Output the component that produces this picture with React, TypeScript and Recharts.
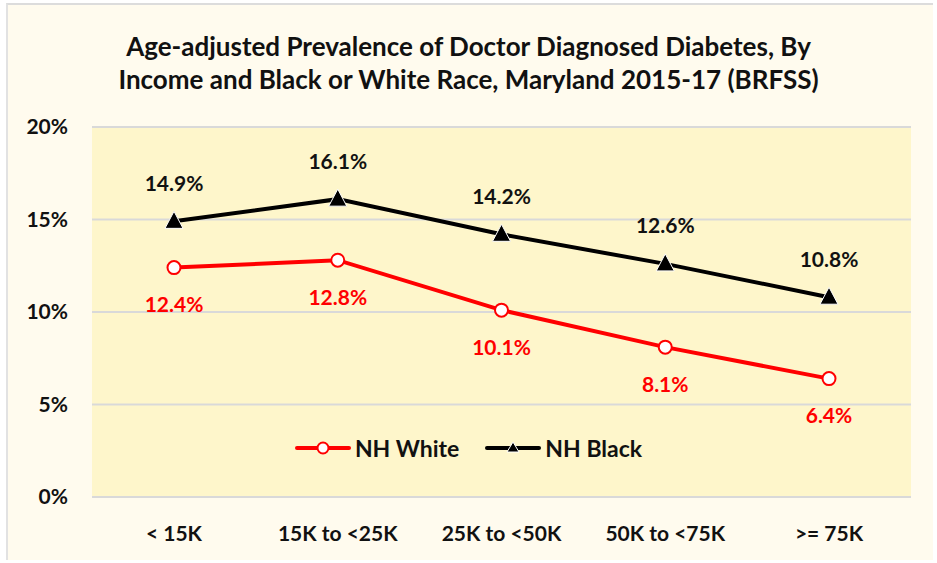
import { LineChart, Line, XAxis, YAxis, CartesianGrid, LabelList } from 'recharts';

const categories = ['< 15K', '15K to <25K', '25K to <50K', '50K to <75K', '>= 75K'];
const whiteValues = [12.4, 12.8, 10.1, 8.1, 6.4];
const blackValues = [14.9, 16.1, 14.2, 12.6, 10.8];
const yTicks = [0, 5, 10, 15, 20];

const chartData = categories.map((name, i) => ({
  name,
  white: whiteValues[i],
  black: blackValues[i],
}));

const FONT = 'Lato, "Open Sans", sans-serif';

function Triangle(props: any) {
  const { cx, cy } = props;
  if (cx == null || cy == null) return null;
  return (
    <polygon
      points={`${cx},${cy - 10} ${cx - 9},${cy + 7} ${cx + 9},${cy + 7}`}
      fill="#000"
      stroke="#fff"
      strokeWidth={1}
    />
  );
}

function LegendBox() {
  return (
    <div
      style={{
        position: 'absolute',
        left: 0,
        top: 434,
        width: 937,
        display: 'flex',
        justifyContent: 'center',
        alignItems: 'center',
        fontFamily: FONT,
        fontWeight: 700,
        fontSize: 23,
        color: '#111',
      }}
    >
      <svg width={56} height={16} style={{ marginRight: 4 }}>
        <line x1={2} y1={8} x2={54} y2={8} stroke="#ff0000" strokeWidth={4} strokeLinecap="round" />
        <circle cx={28} cy={8} r={5.5} fill="#fff" stroke="#ff0000" strokeWidth={2} />
      </svg>
      <span style={{ marginRight: 26 }}>NH White</span>
      <svg width={56} height={16} style={{ marginRight: 4 }}>
        <line x1={2} y1={8} x2={54} y2={8} stroke="#000" strokeWidth={4} strokeLinecap="round" />
        <polygon points="28,2 22,12 34,12" fill="#000" stroke="#fff" strokeWidth={1} />
      </svg>
      <span>NH Black</span>
    </div>
  );
}

const aboveLabel = (props: any) => {
  const { x, y, value } = props;
  return (
    <text x={x} y={y - 36} textAnchor="middle" dominantBaseline="middle" fontFamily={FONT} fontWeight={700} fontSize={21} fill="#111">
      {value.toFixed(1)}%
    </text>
  );
};

const belowLabel = (props: any) => {
  const { x, y, value } = props;
  return (
    <text x={x} y={y + 39} textAnchor="middle" dominantBaseline="middle" fontFamily={FONT} fontWeight={700} fontSize={21} fill="#ff0000">
      {value.toFixed(1)}%
    </text>
  );
};

export default function App() {
  return (
    <div style={{ position: 'absolute', left: 0, top: 0, width: 937, height: 563, background: '#fff' }}>
      <div
        style={{
          position: 'absolute',
          left: 6,
          top: 3,
          width: 927,
          height: 557,
          background: '#fffbee',
          borderTop: '2px solid #dcdcdc',
          borderLeft: '2px solid #e2e2e2',
          boxSizing: 'border-box',
        }}
      />
      <div
        style={{
          position: 'absolute',
          left: 0,
          top: 30,
          width: 937,
          textAlign: 'center',
          fontFamily: FONT,
          fontWeight: 700,
          fontSize: 26,
          lineHeight: '33px',
          color: '#111',
        }}
      >
        Age-adjusted Prevalence of Doctor Diagnosed Diabetes, By
        <br />
        Income and Black or White Race, Maryland 2015-17 (BRFSS)
      </div>
      <div style={{ position: 'absolute', left: 0, top: 0 }}>
        <LineChart width={937} height={563} data={chartData} margin={{ top: 127, right: 26, bottom: 36, left: 0 }}>
          <CartesianGrid vertical={false} stroke="#d9d9d9" strokeWidth={2} fill="#fef6cb" />
          <XAxis
            dataKey="name"
            height={30}
            axisLine={false}
            tickLine={false}
            tickSize={0}
            tickMargin={29}
            padding={{ left: 82, right: 82 }}
            tick={{ fontFamily: FONT, fontWeight: 700, fontSize: 21, fill: '#111' }}
            interval={0}
          />
          <YAxis
            width={92}
            domain={[0, 20]}
            ticks={yTicks}
            axisLine={false}
            tickLine={false}
            tickSize={0}
            tickMargin={24}
            tickFormatter={(v: number) => `${v}%`}
            tick={{ fontFamily: FONT, fontWeight: 700, fontSize: 21, fill: '#111' }}
          />
          <Line
            dataKey="white"
            name="NH White"
            stroke="#ff0000"
            strokeWidth={4}
            dot={{ r: 6.5, fill: '#fff', stroke: '#ff0000', strokeWidth: 2 }}
            activeDot={false}
            isAnimationActive={false}
          >
            <LabelList dataKey="white" content={belowLabel} />
          </Line>
          <Line
            dataKey="black"
            name="NH Black"
            stroke="#000"
            strokeWidth={4}
            dot={<Triangle />}
            activeDot={false}
            isAnimationActive={false}
          >
            <LabelList dataKey="black" content={aboveLabel} />
          </Line>
        </LineChart>
      </div>
      <LegendBox />
    </div>
  );
}
